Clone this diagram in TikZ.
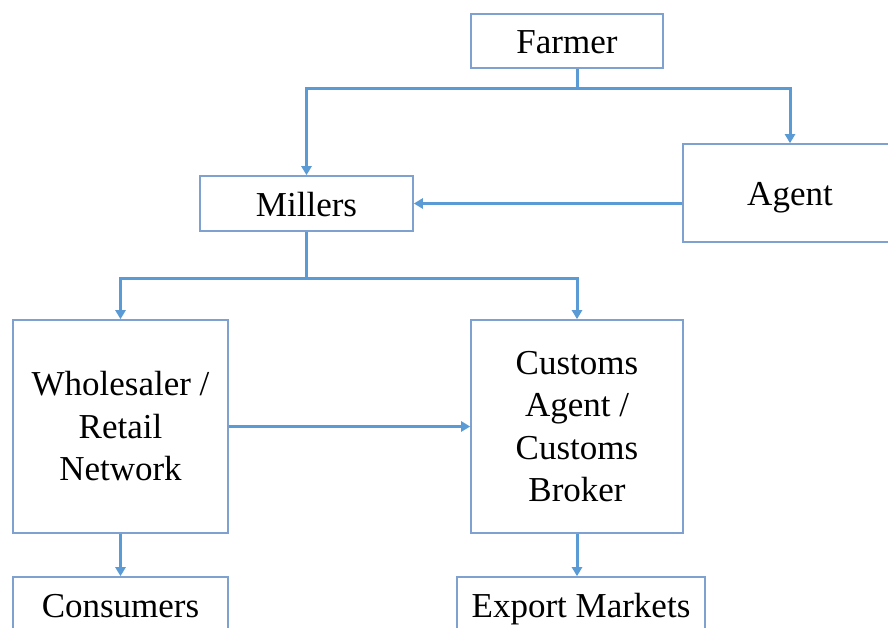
\documentclass[tikz,border=0pt]{standalone}
\usepackage{fontspec}
\setmainfont{Liberation Serif}
\usetikzlibrary{arrows.meta}
\definecolor{boxline}{HTML}{7FA1CF}
\definecolor{conn}{HTML}{5B9BD5}
\tikzset{
  flowbox/.style={draw=boxline, line width=1.6pt, rectangle, inner sep=0pt,
    align=center, font=\fontsize{35}{42.5}\selectfont, text=black},
  oneline/.style={text height=33pt, text depth=7pt},
  flow/.style={draw=conn, line width=3pt, -{Triangle[length=9pt,width=10pt]}},
  flowline/.style={draw=conn, line width=3pt}
}
\begin{document}
\begin{tikzpicture}[x=1pt,y=-1pt]
\useasboundingbox (0,0) rectangle (888,628);
\clip (0,0) rectangle (888,628);
\node[flowbox, oneline, minimum width=192pt, minimum height=54pt] (farmer) at (567,41) {Farmer};
\node[flowbox, oneline, minimum width=214pt, minimum height=98pt] (agent) at (790,193) {Agent};
\node[flowbox, oneline, minimum width=213pt, minimum height=55pt] (millers) at (306.5,203.5) {Millers};
\node[flowbox, minimum width=215pt, minimum height=213pt] (whole) at (120.5,426.5) {Wholesaler /\\Retail\\Network};
\node[flowbox, minimum width=212pt, minimum height=213pt] (customs) at (577,426.5) {Customs\\Agent /\\Customs\\Broker};
\node[flowbox, oneline, minimum width=215pt, minimum height=55pt] (consumers) at (120.5,604.5) {Consumers};
\node[flowbox, oneline, minimum width=248pt, minimum height=55pt] (export) at (581,604.5) {Export Markets};
\coordinate (j1) at (577,89);
\coordinate (j2) at (306.5,278);
\draw[flowline] (farmer.south -| j1) -- (j1);
\draw[flow] (j1) -| (millers.north);
\draw[flow] (j1) -| (agent.north);
\draw[flow] (agent.west |- millers.east) -- (millers.east);
\draw[flowline] (millers.south) -- (j2);
\draw[flow] (j2) -| (whole.north);
\draw[flow] (j2) -| (customs.north);
\draw[flow] (whole.east) -- (customs.west);
\draw[flow] (whole.south) -- (consumers.north);
\draw[flow] (customs.south) -- (customs.south |- export.north);
\end{tikzpicture}
\end{document}
